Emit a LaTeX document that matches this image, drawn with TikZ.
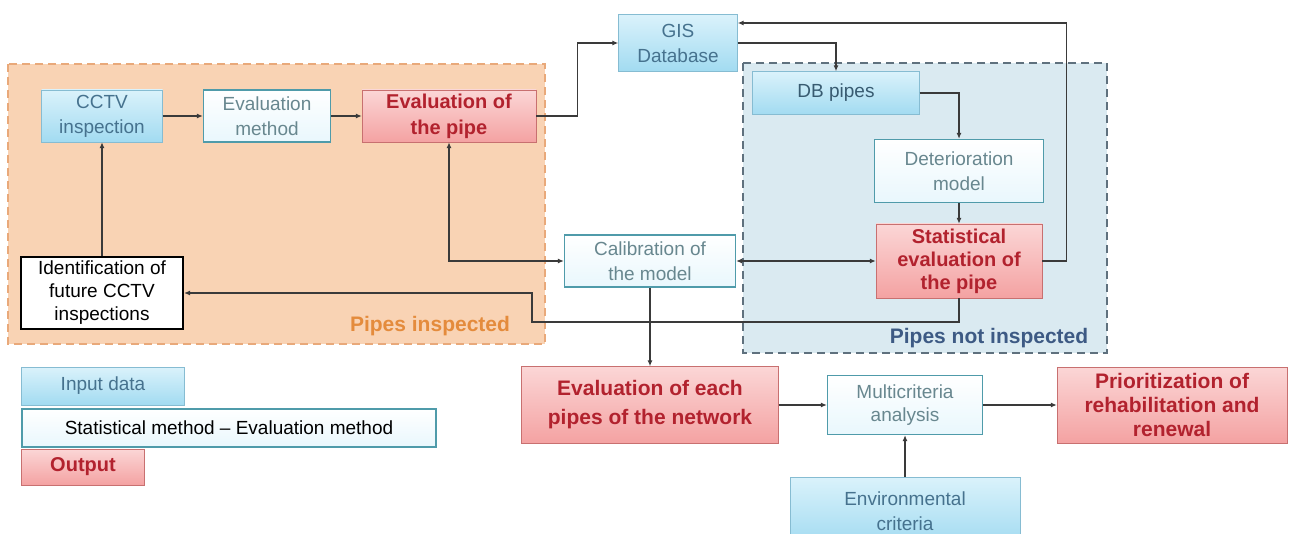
\documentclass[tikz,border=0pt]{standalone}
\usepackage{fontspec}
\setmainfont{Liberation Sans}
\usetikzlibrary{arrows.meta}

\definecolor{intop}{HTML}{DAF2FB}
\definecolor{inbot}{HTML}{A2DBF1}
\definecolor{inline}{HTML}{86BCD2}
\definecolor{intext}{HTML}{46728E}
\definecolor{methline}{HTML}{4F9BAA}
\definecolor{methtext}{HTML}{68878F}
\definecolor{outtop}{HTML}{FBD6D6}
\definecolor{outbot}{HTML}{F4A2A2}
\definecolor{outline}{HTML}{C87070}
\definecolor{outtext}{HTML}{B2222E}
\definecolor{orfill}{HTML}{F9D3B4}
\definecolor{orline}{HTML}{E9A97A}
\definecolor{ortext}{HTML}{E48B3C}
\definecolor{blfill}{HTML}{DAEAF1}
\definecolor{blline}{HTML}{5F717E}
\definecolor{bltext}{HTML}{3D5A84}
\definecolor{wire}{HTML}{3A3A3A}

\begin{document}
\begin{tikzpicture}[x=1pt,y=-1pt]

    \tikzset{
      base/.style={
        draw,
        align=center,
        inner sep=0pt,
        font=\fontsize{19}{25}\selectfont,
      },
      inbox/.style={
        base,
        draw=inline,
        top color=intop,
        bottom color=inbot,
        text=intext,
      },
      methbox/.style={
        base,
        draw=methline,
        line width=1.2pt,
        top color=white,
        bottom color=intop!60,
        text=methtext,
      },
      outbox/.style={
        base,
        draw=outline,
        top color=outtop,
        bottom color=outbot,
        text=outtext,
        font=\fontsize{20}{26}\selectfont\bfseries,
      },
      idbox/.style={
        base,
        draw=black,
        line width=2pt,
        fill=white,
        text=black,
        font=\fontsize{19}{23}\selectfont,
      },
      wire/.style={
        draw=wire,
        line width=1.2pt,
        -{Latex[length=6pt,width=5pt]},
      },
      zone/.style={
        line width=2pt,
        dash pattern=on 8pt off 5pt,
      },
      zonelabel/.style={
        font=\fontsize{21}{25}\selectfont\bfseries,
      },
    }
    \useasboundingbox (0,0) rectangle (1289,534);

	% the two zones
	\draw[zone, draw=orline, fill=orfill] (8,64) rectangle (545,344);
	\draw[zone, draw=blline, fill=blfill] (743,63) rectangle (1107,353);
	\node[zonelabel, text=ortext] (lblin) at (430,326) {Pipes inspected};
	\node[zonelabel, text=bltext] (lblout) at (989,338) {Pipes not inspected};

	% boxes
	\node[inbox, minimum width=119, minimum height=57] (gis) at (678,43) {GIS\\Database};
	\node[inbox, minimum width=121, minimum height=52] (cctv) at (102,116) {CCTV\\inspection};
	\node[methbox, minimum width=127, minimum height=52] (evalm) at (267,116) {Evaluation\\method};
	\node[outbox, minimum width=174, minimum height=52] (pipe) at (449,116) {Evaluation of\\the pipe};
	\node[inbox, minimum width=167, minimum height=43, text=intext!80!black] (db) at (836,93) {DB pipes};
	\node[methbox, minimum width=169, minimum height=63] (det) at (959,171) {Deterioration\\model};
	\node[outbox, minimum width=166, minimum height=74, font=\fontsize{20}{23}\selectfont\bfseries] (stat) at (959,261) {Statistical\\evaluation of\\the pipe};
	\node[methbox, minimum width=171, minimum height=52] (calib) at (650,261) {Calibration of\\the model};
	\node[idbox, minimum width=162, minimum height=72] (ident) at (102,293) {Identification of\\future CCTV\\inspections};
	\node[outbox, minimum width=257, minimum height=77, font=\fontsize{21}{29}\selectfont\bfseries] (each) at (650,405) {Evaluation of each\\pipes of the network};
	\node[methbox, minimum width=155, minimum height=59, font=\fontsize{19}{23}\selectfont] (multi) at (905,405) {Multicriteria\\analysis};
	\node[outbox, minimum width=230, minimum height=76, font=\fontsize{21}{24}\selectfont\bfseries] (prior) at (1172,405) {Prioritization of\\rehabilitation and\\renewal};
	\node[inbox, minimum width=230, minimum height=68] (env) at (905,511) {Environmental\\criteria};

	% legend
	\node[inbox, minimum width=163, minimum height=38] (leg1) at (103,386) {Input data};
	\node[methbox, minimum width=414, minimum height=38, text=black] (leg2) at (229,428) {Statistical method -- Evaluation method};
	\node[outbox, minimum width=123, minimum height=36] (leg3) at (83,467) {Output};

	% connectors
	\coordinate (bend) at (532,322);
	\draw[wire] (cctv) -- (evalm);
	\draw[wire] (evalm) -- (pipe);
	\draw[wire] (pipe.east) -- ++(41,0) |- (gis.west);
	\draw[wire] (gis.east) -| (db.north);
	\draw[wire] (db.east) -| (det.north);
	\draw[wire] (det.south) -- (stat.north);
	\draw[wire] (stat.east) -- ++(24,0) |- ([yshift=20pt]gis.east);
	\draw[wire, {Latex[length=6pt,width=5pt]}-{Latex[length=6pt,width=5pt]}] (calib.east) -- (stat.west);
	\draw[wire, {Latex[length=6pt,width=5pt]}-{Latex[length=6pt,width=5pt]}] (pipe.south) |- (calib.west);
	\draw[wire] (stat.south) |- (bend) |- (ident.east);
	\draw[wire] (ident.north) -- (cctv.south);
	\draw[wire] (calib.south) -- (each.north);
	\draw[wire] (each.east) -- (multi.west);
	\draw[wire] (multi.east) -- (prior.west);
	\draw[wire] (env.north) -- (multi.south);

\end{tikzpicture}
\end{document}
